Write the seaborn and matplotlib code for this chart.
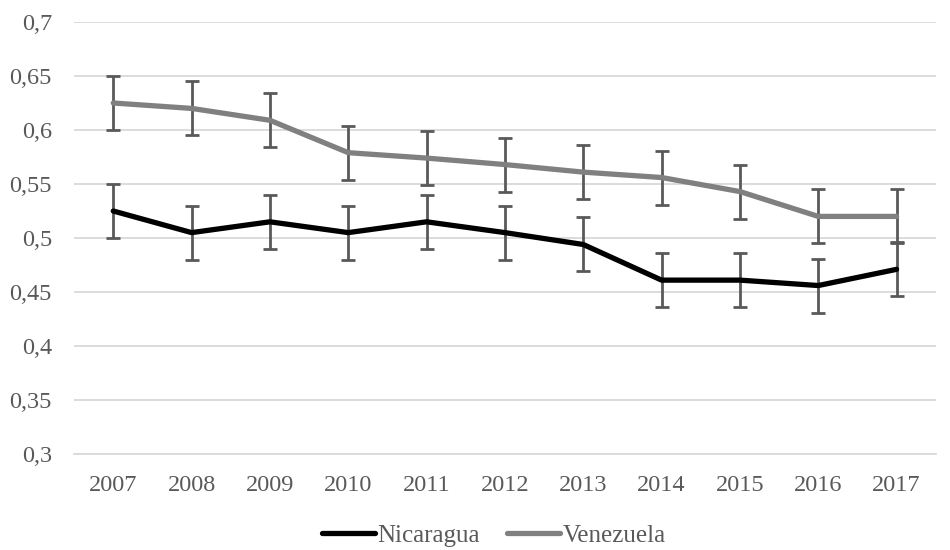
import matplotlib
matplotlib.use("Agg")
import matplotlib.pyplot as plt
from matplotlib.ticker import FuncFormatter, MultipleLocator
import seaborn as sns
import pandas as pd

years = [2007, 2008, 2009, 2010, 2011, 2012, 2013, 2014, 2015, 2016, 2017]
nicaragua = [0.525, 0.505, 0.515, 0.505, 0.515, 0.505, 0.494, 0.461, 0.461, 0.456, 0.471]
venezuela = [0.625, 0.620, 0.609, 0.579, 0.574, 0.568, 0.561, 0.556, 0.543, 0.520, 0.520]
error_half = 0.025
series_names = ["Nicaragua", "Venezuela"]

df = pd.DataFrame({
    "year": years * 2,
    "value": nicaragua + venezuela,
    "country": [series_names[0]] * len(years) + [series_names[1]] * len(years),
})

sns.set_theme(style="white")
plt.rcParams["font.family"] = ["Liberation Serif", "DejaVu Serif"]

fig = plt.figure(figsize=(9.5, 5.5), dpi=100)
ax = fig.add_axes([0.078, 0.1745, 0.907, 0.7855])

palette = {"Nicaragua": "#000000", "Venezuela": "#808080"}

# error bars drawn beneath the lines
for vals in (venezuela, nicaragua):
    ax.errorbar(years, vals, yerr=error_half, fmt="none", ecolor="#595959",
                elinewidth=2, capsize=5, capthick=2, zorder=2)

sns.lineplot(data=df, x="year", y="value", hue="country", palette=palette,
             linewidth=3.8, ax=ax, zorder=3, legend=False)

ax.set_ylim(0.3, 0.7)
ax.set_xlim(2006.5, 2017.5)
ax.yaxis.set_major_locator(MultipleLocator(0.05))
ax.set_xticks(years)
ax.set_xticklabels([str(y) for y in years])
ax.yaxis.set_major_formatter(FuncFormatter(
    lambda v, p: (f"{v:.2f}".rstrip("0").rstrip(".")).replace(".", ",")))
ax.grid(axis="y", color="#d9d9d9", linewidth=1.3)
ax.set_axisbelow(True)
for s in ax.spines.values():
    s.set_visible(False)
ax.spines["bottom"].set_visible(True)
ax.spines["bottom"].set_color("#d9d9d9")
ax.spines["bottom"].set_linewidth(1.3)
ax.tick_params(axis="y", length=0, labelsize=17.5, labelcolor="#595959", pad=16)
ax.tick_params(axis="x", length=0, labelsize=17.5, labelcolor="#595959", pad=15)
ax.set_xlabel("")
ax.set_ylabel("")

handles = [plt.Line2D([0], [0], color=palette[n], linewidth=3.8) for n in series_names]
fig.legend(handles, series_names, loc="lower center", bbox_to_anchor=(0.52, -0.035),
           ncol=2, frameon=False, fontsize=18, labelcolor="#595959",
           handlelength=2.1, handletextpad=0.1, columnspacing=1.1)

fig.savefig("out.png", dpi=100)
